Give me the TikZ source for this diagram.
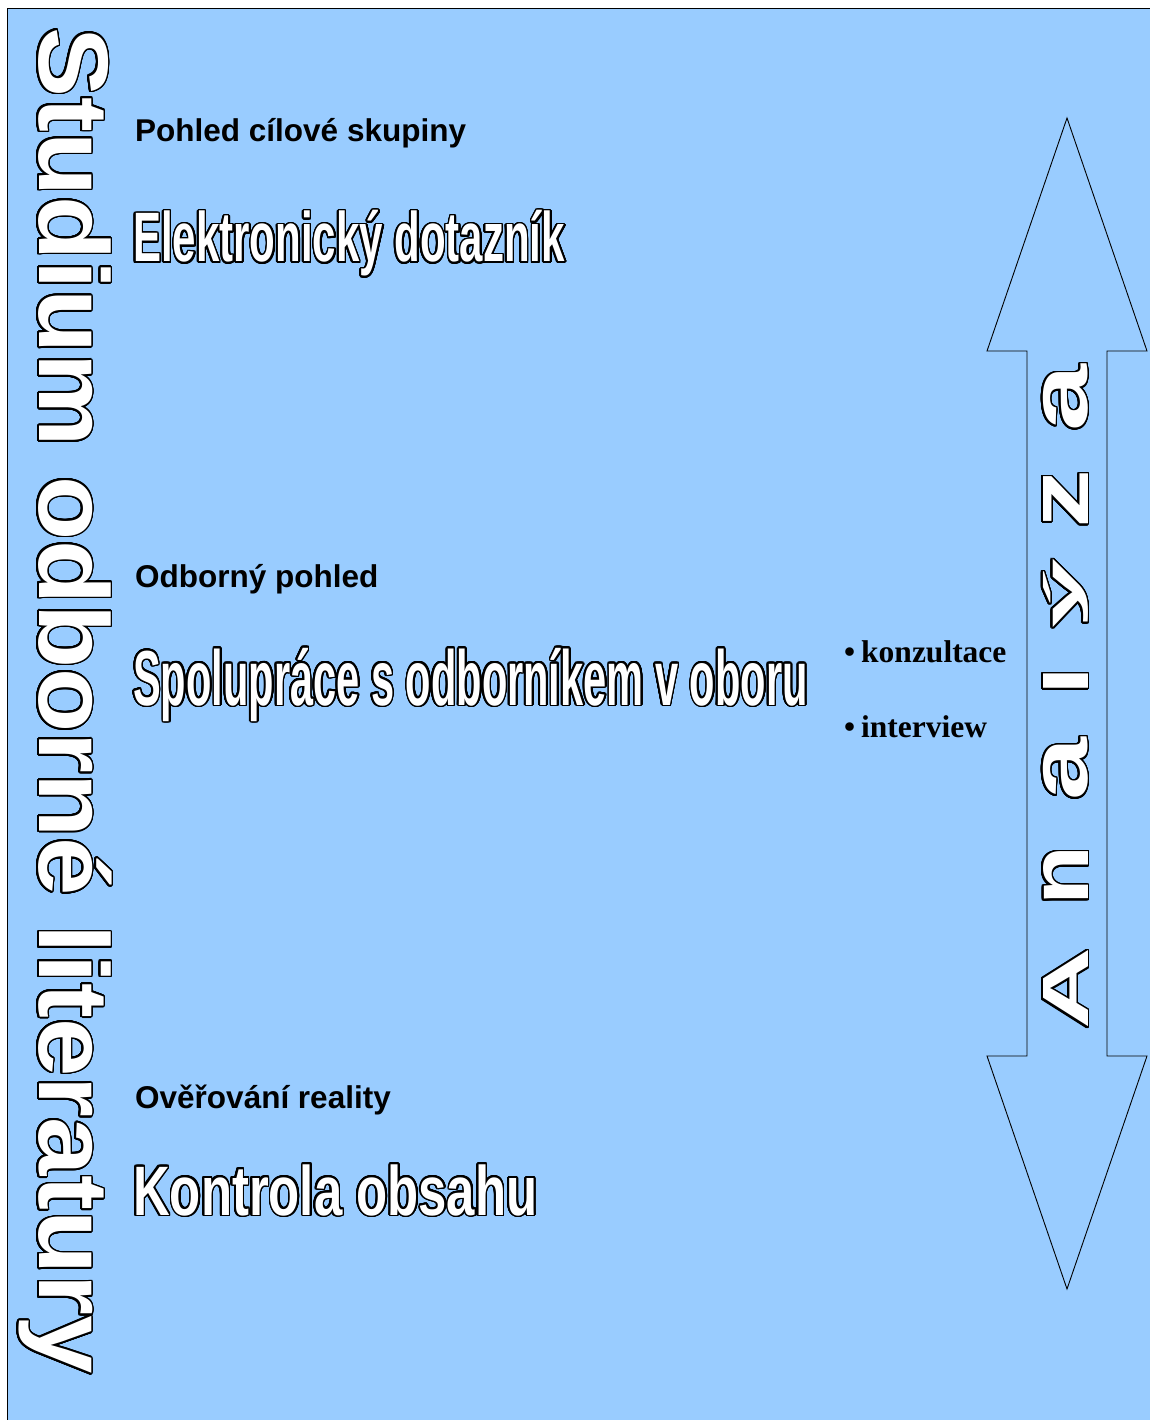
\documentclass[tikz,border=0pt]{standalone}
\usepackage{fontspec}
\setmainfont{Liberation Sans}
\newfontfamily\serifbold{Liberation Serif}
\usepackage{graphicx}
\usepackage[copies]{contour}
\contourlength{1.7pt}
\contournumber{32}
\definecolor{bgblue}{RGB}{153,204,255}
\newsavebox\lfbox
\newcommand\letterfit[2]{\sbox\lfbox{#2}\resizebox{#1}{45pt}{\raisebox{\dp\lfbox}{\usebox\lfbox}}}
\begin{document}
\begin{tikzpicture}[x=1pt,y=-1pt,
  lbl/.style={anchor=base west, inner sep=0, font=\fontsize{31.5}{32}\selectfont\bfseries},
  bul/.style={anchor=base west, inner sep=0, font=\fontsize{31.5}{32}\selectfont\serifbold\bfseries},
  bigtext/.style={anchor=base west, inner sep=0, text=white, font=\fontsize{#1}{#1}\selectfont\bfseries},
  arrowline/.style={draw=black, line width=0.9pt, line join=miter}]
\useasboundingbox (0,0) rectangle (1149,1420);
\fill[white] (0,0) rectangle (1149,1420);
\draw[fill=bgblue, line width=1pt] (7,9) rectangle (1170,1440);
% double arrow
\draw[arrowline] (1067,118) -- (1147,351) -- (1107,351) -- (1107,1056) -- (1147,1056)
  -- (1067,1289) -- (987,1056) -- (1027,1056) -- (1027,351) -- (987,351) -- cycle;
% vertical titles
\node[bigtext=99, rotate=-90] (studium) at (39,27) {\contour{black}{\scalebox{1.06}[1]{Studium odborné literatury}}};
\node[bigtext=63, rotate=90] (analyza) at (1088,1030) {\contour{black}{%
  \letterfit{82pt}{A}\hspace{42pt}\letterfit{60pt}{n}\hspace{45pt}\letterfit{63pt}{a}\hspace{42pt}%
  \letterfit{29pt}{l}\hspace{38pt}\letterfit{70pt}{ý}\hspace{30pt}\letterfit{59pt}{z}\hspace{38pt}%
  \letterfit{67pt}{a}}};
% section labels
\node[lbl] (pohled) at (135,141.5) {Pohled cílové skupiny};
\node[lbl] (odborny) at (135,587) {Odborný pohled};
\node[lbl] (overovani) at (135,1108) {Ověřování reality};
% big headings
\node[bigtext=70] (elektro) at (133,262) {\contour{black}{\scalebox{0.6}[1]{Elektronický dotazník}}};
\node[bigtext=78] (spoluprace) at (133,705) {\contour{black}{\scalebox{0.533}[1]{Spolupráce s odborníkem v oboru}}};
\node[bigtext=70] (kontrola) at (133,1215) {\contour{black}{\scalebox{0.727}[1]{Kontrola obsahu}}};
% bullets
\node[bul] (konz) at (844,662) {•\hspace{6pt}konzultace};
\node[bul] (inter) at (844,737) {•\hspace{6pt}interview};
\end{tikzpicture}
\end{document}
